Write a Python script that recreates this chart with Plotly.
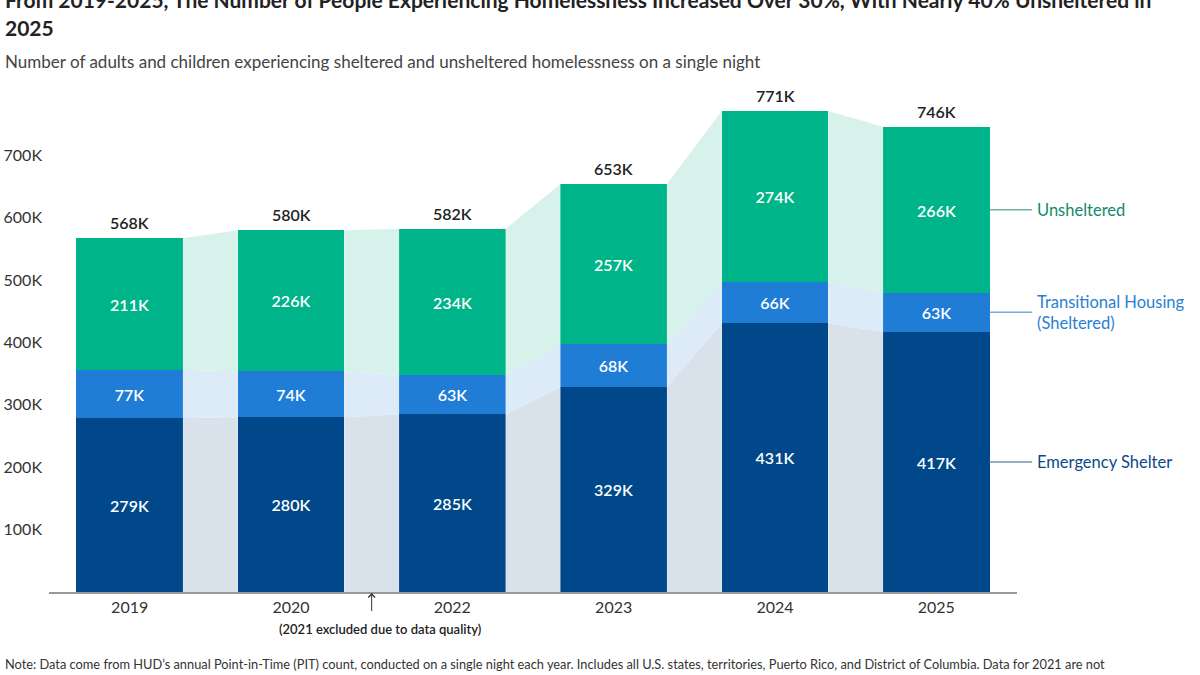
import plotly.graph_objects as go

years = ["2019", "2020", "2022", "2023", "2024", "2025"]
emergency = [279, 280, 285, 329, 431, 417]
transitional = [77, 74, 63, 68, 66, 63]
unsheltered = [211, 226, 234, 257, 274, 266]
totals = [568, 580, 582, 653, 771, 746]
series_names = ["Emergency Shelter", "Transitional Housing<br>(Sheltered)", "Unsheltered"]
y_ticks = [100, 200, 300, 400, 500, 600, 700]
y_tick_labels = ["100K", "200K", "300K", "400K", "500K", "600K", "700K"]

FONT = "Lato, 'Source Sans Pro', sans-serif"
dark = ["#00488A", "#1F7DD6", "#00B489"]
light = ["#D9E2EB", "#DDEAF8", "#D6F2EA"]
label_colors = ["#0B4A8A", "#2A80D2", "#13896B"]
line_colors = ["#6F93B5", "#76A9D9", "#6FAFA8"]

W = 0.66
xs = list(range(len(years)))
series = [emergency, transitional, unsheltered]

bottoms, tops = [], []
acc = [0] * len(years)
for s in series:
    bottoms.append(acc[:])
    acc = [a + v for a, v in zip(acc, s)]
    tops.append(acc[:])

fig = go.Figure()

for k in range(3):
    px, py = [], []
    for i in range(len(years) - 1):
        x0 = xs[i] + W / 2
        x1 = xs[i + 1] - W / 2
        px += [x0, x0, x1, x1, x0, None]
        py += [bottoms[k][i], tops[k][i], tops[k][i + 1], bottoms[k][i + 1], bottoms[k][i], None]
    fig.add_trace(go.Scatter(x=px, y=py, mode="none", fill="toself",
                             fillcolor=light[k], hoverinfo="skip", showlegend=False))

for k in range(3):
    fig.add_trace(go.Bar(
        x=xs, y=series[k], width=W, marker=dict(color=dark[k], line=dict(width=0)),
        text=[f"{v}K" for v in series[k]], textposition="inside",
        insidetextanchor="middle", textangle=0,
        textfont=dict(family=FONT, size=16, color="white", weight=600),
        showlegend=False, hoverinfo="skip"))

ann = []
for i, t in enumerate(totals):
    ann.append(dict(x=xs[i], y=tops[2][i], xref="x", yref="y", text=f"{t}K",
                    showarrow=False, yanchor="bottom", yshift=4,
                    font=dict(family=FONT, size=16, color="#222", weight=600)))

XMIN, XMAX = -0.5, len(years) - 0.5
YMAX = 800

def xpaper(v):
    return (v - XMIN) / (XMAX - XMIN)

last = len(years) - 1
shapes = []
for k in range(3):
    mid = (bottoms[k][last] + tops[k][last]) / 2
    yp = mid / YMAX
    shapes.append(dict(type="line", xref="paper", yref="paper",
                       x0=xpaper(last + W / 2), x1=xpaper(last + W / 2) + 0.044,
                       y0=yp, y1=yp, line=dict(color=line_colors[k], width=1.5)))
    ann.append(dict(xref="paper", yref="paper", x=xpaper(last + W / 2) + 0.047, y=yp,
                    text=series_names[k], showarrow=False, xanchor="left", yanchor="middle",
                    align="left", font=dict(family=FONT, size=16.5, color=label_colors[k])))

# 2021 note with arrow
ann.append(dict(x=1.5, y=-0.002, xref="x", yref="paper", ax=0, ay=20, text=" ",
                showarrow=True, arrowhead=4, arrowsize=1.3, arrowwidth=1, arrowcolor="#333",
                font=dict(size=1)))
ann.append(dict(x=1.55, y=-0.075, xref="x", yref="paper", text="(2021 excluded due to data quality)",
                showarrow=False, xanchor="center", yanchor="middle",
                font=dict(family=FONT, size=13, color="#222", weight=600)))

# titles
TX = -0.048
ann.append(dict(xref="paper", yref="paper", x=TX, y=1.187, xanchor="left", yanchor="middle",
                text="From 2019-2025, The Number of People Experiencing Homelessness Increased Over 30%, With Nearly 40% Unsheltered in",
                showarrow=False, font=dict(family=FONT, size=21, color="#222", weight=700)))
ann.append(dict(xref="paper", yref="paper", x=TX, y=1.131, xanchor="left", yanchor="middle",
                text="2025", showarrow=False, font=dict(family=FONT, size=21, color="#222", weight=700)))
ann.append(dict(xref="paper", yref="paper", x=TX, y=1.063, xanchor="left", yanchor="middle",
                text="Number of adults and children experiencing sheltered and unsheltered homelessness on a single night",
                showarrow=False, font=dict(family=FONT, size=17, color="#444")))
ann.append(dict(xref="paper", yref="paper", x=TX, y=-0.145, xanchor="left", yanchor="middle",
                text="Note: Data come from HUD’s annual Point-in-Time (PIT) count, conducted on a single night each year. Includes all U.S. states, territories, Puerto Rico, and District of Columbia. Data for 2021 are not",
                showarrow=False, font=dict(family=FONT, size=12.8, color="#333")))

fig.update_layout(
    width=1200, height=675, barmode="stack", bargap=0,
    plot_bgcolor="white", paper_bgcolor="white",
    margin=dict(l=49, r=183, t=92.5, b=82.5),
    font=dict(family=FONT, color="#333"),
    xaxis=dict(range=[XMIN, XMAX], tickvals=xs, ticktext=years, showgrid=False,
               zeroline=False, showline=True, linecolor="#999", linewidth=2,
               ticks="", automargin=False, tickfont=dict(size=16, color="#333")),
    yaxis=dict(range=[0, YMAX], tickvals=y_ticks, ticktext=y_tick_labels, showgrid=False,
               zeroline=False, showline=False, ticks="", ticklabelstandoff=6, automargin=False,
               tickfont=dict(size=16, color="#333")),
    annotations=ann, shapes=shapes,
)

fig.write_html("out.html", config={"displayModeBar": False},
               post_script="document.body.style.margin='0';document.body.style.overflow='hidden';")
